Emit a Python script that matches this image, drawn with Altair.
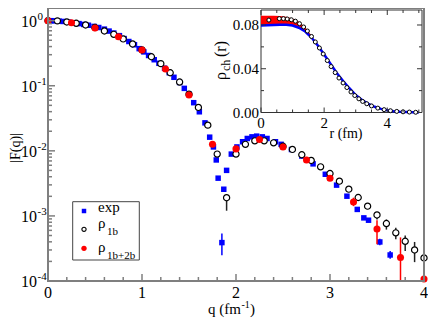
import altair as alt
import pandas as pd

FONT = "Liberation Serif"

# ---------------- main panel |F(q)| ----------------
exp_q = [0.03, 0.07, 0.12, 0.16, 0.22, 0.27, 0.33, 0.38, 0.43, 0.49, 0.54, 0.60, 0.65, 0.70,
         0.76, 0.81, 0.86, 0.92, 0.97, 1.02, 1.07, 1.13, 1.18, 1.24, 1.29, 1.34, 1.40, 1.45,
         1.50, 1.55, 1.61, 1.67, 1.72, 1.76, 1.79, 1.81, 1.85, 1.87, 1.90, 1.95, 2.01, 2.07,
         2.12, 2.17, 2.22, 2.28, 2.33, 2.42, 2.48, 2.59, 2.70, 2.82, 2.95, 3.07, 3.18, 3.29,
         3.36, 3.41, 3.53, 3.64]
exp_log = [0.0, -0.003, -0.008, -0.012, -0.022, -0.032, -0.045, -0.058, -0.07, -0.088, -0.105,
           -0.13, -0.16, -0.19, -0.23, -0.275, -0.32, -0.37, -0.43, -0.48, -0.535, -0.60, -0.655,
           -0.73, -0.80, -0.87, -0.95, -1.04, -1.13, -1.26, -1.40, -1.57, -1.79, -1.94, -2.14,
           -2.42, -3.41, -2.59, -2.30, -2.05, -1.94, -1.86, -1.81, -1.785, -1.774, -1.785, -1.81,
           -1.86, -1.90, -1.98, -2.08, -2.20, -2.36, -2.527, -2.697, -2.90, -3.03, -3.066, -3.40,
           -3.60]
exp_err_q = [1.85, 3.53, 3.64]
exp_err_lo = [-3.605, -3.45, -3.66]
exp_err_hi = [-3.27, -3.35, -3.54]

r1b_q = [0.0, 0.1, 0.2, 0.3, 0.4, 0.5, 0.6, 0.7, 0.8, 0.9, 1.0, 1.1, 1.2, 1.3, 1.4, 1.5, 1.6,
         1.7, 1.8, 1.9, 2.0, 2.1, 2.2, 2.3, 2.4, 2.5, 2.6, 2.7, 2.8, 2.9, 3.0, 3.1, 3.2, 3.3,
         3.4, 3.5, 3.6, 3.7, 3.8, 3.9, 4.0]
r1b_log = [0.0, -0.003, -0.02, -0.04, -0.066, -0.105, -0.158, -0.21, -0.28, -0.358, -0.45,
           -0.554, -0.66, -0.80, -0.943, -1.13, -1.333, -1.605, -2.05, -2.72, -2.05, -1.90,
           -1.846, -1.846, -1.877, -1.93, -1.978, -2.06, -2.148, -2.246, -2.348, -2.466, -2.589,
           -2.717, -2.85, -2.985, -3.117, -3.26, -3.39, -3.523, -3.646]
r1b_err_q = [1.9, 3.5, 3.6, 3.7, 3.8, 3.9, 4.0]
r1b_err_lo = [-2.92, -3.055, -3.21, -3.36, -3.54, -3.71, -3.87]
r1b_err_hi = [-2.68, -2.94, -3.055, -3.18, -3.30, -3.40, -3.50]

r2b_q = [0.0, 0.25, 0.5, 0.75, 1.0, 1.25, 1.5, 1.75, 2.0, 2.25, 2.5, 2.75, 3.0, 3.25, 3.5,
         3.75, 4.0]
r2b_log = [0.0, -0.031, -0.112, -0.246, -0.45, -0.743, -1.143, -1.90, -1.97, -1.825, -1.94,
           -2.14, -2.42, -2.785, -3.20, -3.64, -3.97]
r2b_err_q = [3.25, 3.5, 3.75, 4.0]
r2b_err_lo = [-2.85, -3.435, -4.0, -4.0]
r2b_err_hi = [-2.72, -3.066, -3.33, -3.63]

x_major = [0, 1, 2, 3, 4]
x_major_txt = ["0", "1", "2", "3", "4"]
x_minor = [0.2, 0.4, 0.6, 0.8, 1.2, 1.4, 1.6, 1.8, 2.2, 2.4, 2.6, 2.8, 3.2, 3.4, 3.6, 3.8]
y_major = [1e-4, 1e-3, 1e-2, 1e-1, 1.0]
y_major_exp = ["-4", "-3", "-2", "-1", "0"]
y_minor = [k * 10.0 ** e for e in range(-4, 1) for k in range(2, 10) if k * 10.0 ** e < 1.5]

# ---------------- inset rho_ch(r) ----------------
in_line_r = [0, 0.2, 0.4, 0.6, 0.8, 1.0, 1.2, 1.4, 1.6, 1.8, 2.0, 2.2, 2.4, 2.6, 2.8, 3.0,
             3.2, 3.4, 3.6, 3.8, 4.0, 4.2, 4.4, 4.6, 4.8, 5.0]
in_line_rho = [0.0795, 0.0797, 0.0800, 0.0803, 0.0803, 0.0795, 0.0775, 0.0740, 0.0685, 0.0612,
               0.0530, 0.0445, 0.0362, 0.0288, 0.0222, 0.0160, 0.0114, 0.0079, 0.0052, 0.0033,
               0.0020, 0.0012, 0.0007, 0.0004, 0.0002, 0.0001]
in_band_r = [0, 0.2, 0.4, 0.6, 0.8, 1.0, 1.2, 1.4, 1.6]
in_band_hi = [0.0885, 0.0885, 0.0885, 0.0883, 0.0875, 0.0860, 0.0830, 0.0780, 0.0705]
in_band_lo = [0.0800, 0.0802, 0.0805, 0.0808, 0.0806, 0.0798, 0.0778, 0.0742, 0.0687]
in_c_r = [0.25, 0.58, 0.71, 0.83, 0.96, 1.09, 1.22, 1.35, 1.47, 1.6, 1.72, 1.85, 1.97, 2.1,
          2.22, 2.35, 2.47, 2.6, 2.72, 2.85, 2.97, 3.1, 3.22, 3.35, 3.5, 3.7, 3.9, 4.1, 4.3,
          4.5, 4.7, 4.9]
in_c_rho = [0.0845, 0.0858, 0.0858, 0.0855, 0.0848, 0.0835, 0.0812, 0.0782, 0.0745, 0.0695,
            0.0645, 0.0590, 0.0535, 0.0475, 0.0420, 0.0365, 0.0315, 0.0270, 0.0228, 0.0188,
            0.0155, 0.0125, 0.0101, 0.0080, 0.0060, 0.0040, 0.0026, 0.0016, 0.0010, 0.0006,
            0.0004, 0.0002]
in_x_major = [0, 2, 4]
in_x_major_txt = ["0", "2", "4"]
in_x_minor = [0.5, 1, 1.5, 2.5, 3, 3.5, 4.5, 5]
in_y_major = [0.0, 0.04, 0.08]
in_y_major_txt = ["0.00", "0.04", "0.08"]
in_y_minor = [0.02, 0.06]

# ---------------- geometry ----------------
W, H = 376, 273
FRAME = "#7f7f7f"
BLUE = "#0000ff"
RED = "#ff0000"
IL, IR, IB, IT = 213, 374, 104.5, 2   # inset frame in plot pixels

xs = alt.Scale(domain=[0, 4], nice=False, zero=False)
ys = alt.Scale(type="log", domain=[1e-4, 1.566], nice=False)
ixs = alt.Scale(domain=[0, 5.1], range=[IL, IR], nice=False, zero=False)
iys = alt.Scale(domain=[0, 0.0937], range=[IB, IT], nice=False, zero=False)


def tolog(v):
    return [10.0 ** x for x in v]


df_exp = pd.DataFrame({"q": exp_q, "F": tolog(exp_log)})
df_exp_err = pd.DataFrame({"q": exp_err_q, "lo": tolog(exp_err_lo), "hi": tolog(exp_err_hi)})
df_1b = pd.DataFrame({"q": r1b_q, "F": tolog(r1b_log)})
df_1b_err = pd.DataFrame({"q": r1b_err_q, "lo": tolog(r1b_err_lo), "hi": tolog(r1b_err_hi)})
df_2b = pd.DataFrame({"q": r2b_q, "F": tolog(r2b_log)})
df_2b_err = pd.DataFrame({"q": r2b_err_q, "lo": tolog(r2b_err_lo), "hi": tolog(r2b_err_hi)})
one = pd.DataFrame({"a": [0]})


def X(f="q"):
    return alt.X(f"{f}:Q", scale=xs, axis=None)


def Y(f="F"):
    return alt.Y(f"{f}:Q", scale=ys, axis=None)


exp_pts = alt.Chart(df_exp).mark_square(size=30, color=BLUE, opacity=1).encode(x=X(), y=Y())
exp_err = alt.Chart(df_exp_err).mark_rule(color=BLUE, strokeWidth=1.5).encode(
    x=X(), y=Y("lo"), y2="hi:Q")
b1_err = alt.Chart(df_1b_err).mark_rule(color="#222222", strokeWidth=1.5).encode(
    x=X(), y=Y("lo"), y2="hi:Q")
b1_pts = alt.Chart(df_1b).mark_point(shape="circle", size=38, color="black", fill="white",
                                     filled=False, strokeWidth=1.2, opacity=1).encode(
    x=X(), y=Y())
b2_err = alt.Chart(df_2b_err).mark_rule(color=RED, strokeWidth=1.5).encode(
    x=X(), y=Y("lo"), y2="hi:Q")
b2_pts = alt.Chart(df_2b).mark_circle(size=50, color=RED, opacity=1).encode(x=X(), y=Y())


def vticks(vals, scale, ybase, length, color, width):
    return alt.Chart(pd.DataFrame({"v": vals})).mark_rule(color=color, strokeWidth=width).encode(
        x=alt.X("v:Q", scale=scale, axis=None), y=alt.value(ybase), y2=alt.value(ybase + length))


def hticks(vals, scale, xbase, length, color, width):
    return alt.Chart(pd.DataFrame({"v": vals})).mark_rule(color=color, strokeWidth=width).encode(
        y=alt.Y("v:Q", scale=scale, axis=None), x=alt.value(xbase), x2=alt.value(xbase + length))


def txt(s, x, y, size=15, angle=0, align="left", baseline="alphabetic"):
    return alt.Chart(one).mark_text(text=s, font=FONT, fontSize=size, color="black",
                                    align=align, baseline=baseline, angle=angle).encode(
        x=alt.value(x), y=alt.value(y))


def xlabels(vals, texts, scale, y, size):
    return alt.Chart(pd.DataFrame({"v": vals, "t": texts})).mark_text(
        font=FONT, fontSize=size, color="black", align="center", baseline="alphabetic").encode(
        x=alt.X("v:Q", scale=scale, axis=None), y=alt.value(y), text="t:N")


def ylabels(vals, texts, scale, x, dy, size, align):
    return alt.Chart(pd.DataFrame({"v": vals, "t": texts})).mark_text(
        font=FONT, fontSize=size, color="black", align=align, baseline="alphabetic", dy=dy).encode(
        y=alt.Y("v:Q", scale=scale, axis=None), x=alt.value(x), text="t:N")


frame = alt.Chart(one).mark_rect(fillOpacity=0, stroke=FRAME, strokeWidth=2).encode(
    x=alt.value(0), x2=alt.value(W), y=alt.value(0), y2=alt.value(H))

main_axes = [
    vticks(x_major, xs, H, -7, FRAME, 1.5), vticks(x_minor, xs, H, -4, FRAME, 1.5),
    hticks(y_major, ys, 0, 7, FRAME, 1.5), hticks(y_minor, ys, 0, 4, FRAME, 1.5),
    xlabels(x_major, x_major_txt, xs, H + 17, 16),
    ylabels(y_major, ["10"] * 5, ys, -11, 6, 16, "right"),
    ylabels(y_major, y_major_exp, ys, -10.5, -1, 11, "left"),
    txt("q (fm", 160, H + 33, 15), txt("-1", 193.5, H + 27, 10), txt(")", 202, H + 33, 15),
    txt("|F(q)|", -32.5, 140, 14, 270, "center", "middle"),
]

# legend (plot pixels)
leg_box = alt.Chart(one).mark_rect(fill="white", stroke="#444444", strokeWidth=1).encode(
    x=alt.value(24.7), x2=alt.value(91.3), y=alt.value(193.7), y2=alt.value(252))
leg_s1 = alt.Chart(one).mark_square(size=20, color=BLUE, opacity=1).encode(
    x=alt.value(36), y=alt.value(203))
leg_s2 = alt.Chart(one).mark_point(shape="circle", size=18, color="black", fill="white",
                                   strokeWidth=1.1, opacity=1).encode(
    x=alt.value(36), y=alt.value(221.3))
leg_s3 = alt.Chart(one).mark_circle(size=28, color=RED, opacity=1).encode(
    x=alt.value(36), y=alt.value(240.3))
legend = [leg_box, leg_s1, leg_s2, leg_s3,
          txt("exp", 50, 204), txt("\u03c1", 50, 219.5), txt("1b", 59, 226.5, 11),
          txt("\u03c1", 50, 243.5), txt("1b+2b", 59, 250.5, 11)]

# ---------------- inset ----------------
df_line = pd.DataFrame({"r": in_line_r, "rho": in_line_rho})
df_band = pd.DataFrame({"r": in_band_r, "lo": in_band_lo, "hi": in_band_hi})
df_c = pd.DataFrame({"r": in_c_r, "rho": in_c_rho})


def IX(f="r"):
    return alt.X(f"{f}:Q", scale=ixs, axis=None)


def IY(f="rho"):
    return alt.Y(f"{f}:Q", scale=iys, axis=None)


in_frame = alt.Chart(one).mark_rect(fill="white", stroke="#333333", strokeWidth=1).encode(
    x=alt.value(IL), x2=alt.value(IR), y=alt.value(IT), y2=alt.value(IB))
in_band = alt.Chart(df_band).mark_area(color=RED, opacity=1).encode(
    x=IX(), y=IY("lo"), y2="hi:Q")
in_line = alt.Chart(df_line).mark_line(color=BLUE, strokeWidth=2.5).encode(x=IX(), y=IY())
in_pts = alt.Chart(df_c).mark_point(shape="circle", size=16, color="black", fill="white",
                                    filled=False, strokeWidth=1, opacity=1).encode(x=IX(), y=IY())

TK = "#333333"
inset_axes = [
    vticks(in_x_major, ixs, IB, -5, TK, 1), vticks(in_x_minor, ixs, IB, -3, TK, 1),
    vticks(in_x_major, ixs, IT, 5, TK, 1), vticks(in_x_minor, ixs, IT, 3, TK, 1),
    hticks(in_y_major, iys, IL, 5, TK, 1), hticks(in_y_minor, iys, IL, 3, TK, 1),
    hticks(in_y_major, iys, IR, -5, TK, 1), hticks(in_y_minor, iys, IR, -3, TK, 1),
    xlabels(in_x_major, in_x_major_txt, ixs, 120, 15),
    ylabels(in_y_major, in_y_major_txt, iys, IL - 2, 5, 15, "right"),
    txt("r (fm)", 298, 130, 14, 0, "center"),
    txt("\u03c1", 178, 72, 16, 270), txt("ch", 181.5, 63, 12, 270), txt("(r)", 178, 49, 16, 270),
]

main = alt.layer(exp_pts, exp_err, b1_err, b1_pts, b2_err, b2_pts, *main_axes, frame, *legend)
inset = alt.layer(in_frame, in_band, in_line, in_pts, *inset_axes)

chart = alt.layer(main, inset).resolve_scale(x="independent", y="independent").properties(
    width=W, height=H,
    autosize=alt.AutoSizeParams(type="none"),
    padding={"left": 40, "top": 0, "right": 4, "bottom": 46},
).configure_view(strokeWidth=0).configure(background="white")

chart.save("out.html", embed_options={"renderer": "svg", "actions": False})
